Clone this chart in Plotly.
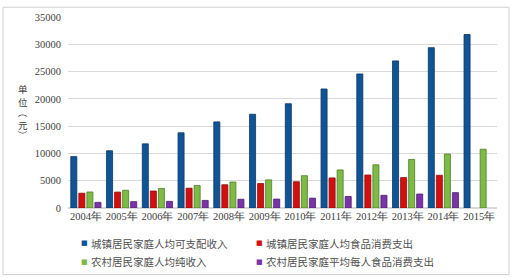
import plotly.graph_objects as go

years = ["2004年", "2005年", "2006年", "2007年", "2008年", "2009年",
         "2010年", "2011年", "2012年", "2013年", "2014年", "2015年"]
urban_income = [9422, 10493, 11759, 13786, 15781, 17175, 19109, 21810, 24565, 26955, 29381, 31790]
urban_food = [2710, 2914, 3112, 3628, 4260, 4479, 4805, 5506, 6041, 5571, 6000, None]
rural_income = [2936, 3255, 3587, 4140, 4761, 5153, 5919, 6977, 7917, 8896, 9892, 10772]
rural_food = [1031, 1162, 1217, 1389, 1599, 1636, 1801, 2107, 2324, 2554, 2814, None]

names = ["城镇居民家庭人均可支配收入", "城镇居民家庭人均食品消费支出",
         "农村居民家庭人均纯收入", "农村居民家庭平均每人食品消费支出"]
colors = ["#0F5596", "#D40F0F", "#7DBA46", "#7A34A8"]
edges = ["#0A3563", "#8E0A0A", "#4E7E27", "#4C1C6E"]
series = [urban_income, urban_food, rural_income, rural_food]
# y-axis title "单位（元）", written vertically (parentheses rotated)
ytitle_chars = ["单", "位", "（", "元", "）"]
ytitle_rot = [0, 0, 90, 0, 90]

L, R, T, B = 68, 15, 13, 72
W, H = 512, 280
pw, ph = W - L - R, H - T - B


def px_x(x):
    return (x - L) / pw


def px_y(y):
    return (H - B - y) / ph


fig = go.Figure()
for n, s, c, e in zip(names, series, colors, edges):
    fig.add_trace(go.Bar(x=years, y=s, name=n,
                         marker=dict(color=c, line=dict(color=e, width=0.8))))

annotations = []
ychar_pos = [87, 100, 111, 123, 134]
for ch, rot, yp in zip(ytitle_chars, ytitle_rot, ychar_pos):
    annotations.append(dict(text=ch, xref="paper", yref="paper", x=px_x(23), y=px_y(yp),
                            showarrow=False, xanchor="center", yanchor="middle",
                            textangle=rot,
                            font=dict(family="Noto Sans CJK SC", size=9.5, color="#404040")))

# legend, two columns
leg_x = [84, 259]
leg_y = [244, 263]
for i, (n, c) in enumerate(zip(names, colors)):
    cx = leg_x[i % 2]
    cy = leg_y[i // 2]
    annotations.append(dict(text="■", xref="paper", yref="paper", x=px_x(cx), y=px_y(cy),
                            showarrow=False, xanchor="center", yanchor="middle",
                            font=dict(family="DejaVu Sans", size=7, color=c)))
    annotations.append(dict(text=n, xref="paper", yref="paper", x=px_x(cx + 5), y=px_y(cy),
                            showarrow=False, xanchor="left", yanchor="middle",
                            font=dict(family="Noto Sans CJK SC", size=10.5, color="#505050")))

fig.update_layout(
    width=W, height=H,
    margin=dict(l=L, r=R, t=T, b=B),
    paper_bgcolor="white", plot_bgcolor="white",
    barmode="group", bargap=0.1, bargroupgap=0.25,
    font=dict(family="Liberation Serif", size=10, color="#404040"),
    showlegend=False,
    xaxis=dict(showgrid=False, showline=False, ticks="",
               tickfont=dict(family="Liberation Serif", size=10.5, color="#404040")),
    yaxis=dict(range=[0, 35000], dtick=5000, tickformat="d", showgrid=True,
               gridcolor="#D9D9D9", gridwidth=1, zeroline=True, zerolinecolor="#D9D9D9",
               showline=False, ticks="",
               tickfont=dict(family="Liberation Serif", size=10.5, color="#404040"),
               ticklabelstandoff=6),
    shapes=[dict(type="rect", xref="paper", yref="paper",
                 x0=px_x(3), x1=px_x(509), y0=px_y(276), y1=px_y(3),
                 line=dict(color="#D0D0D0", width=1), layer="below")],
    annotations=annotations,
)

fig.write_html("out.html")
